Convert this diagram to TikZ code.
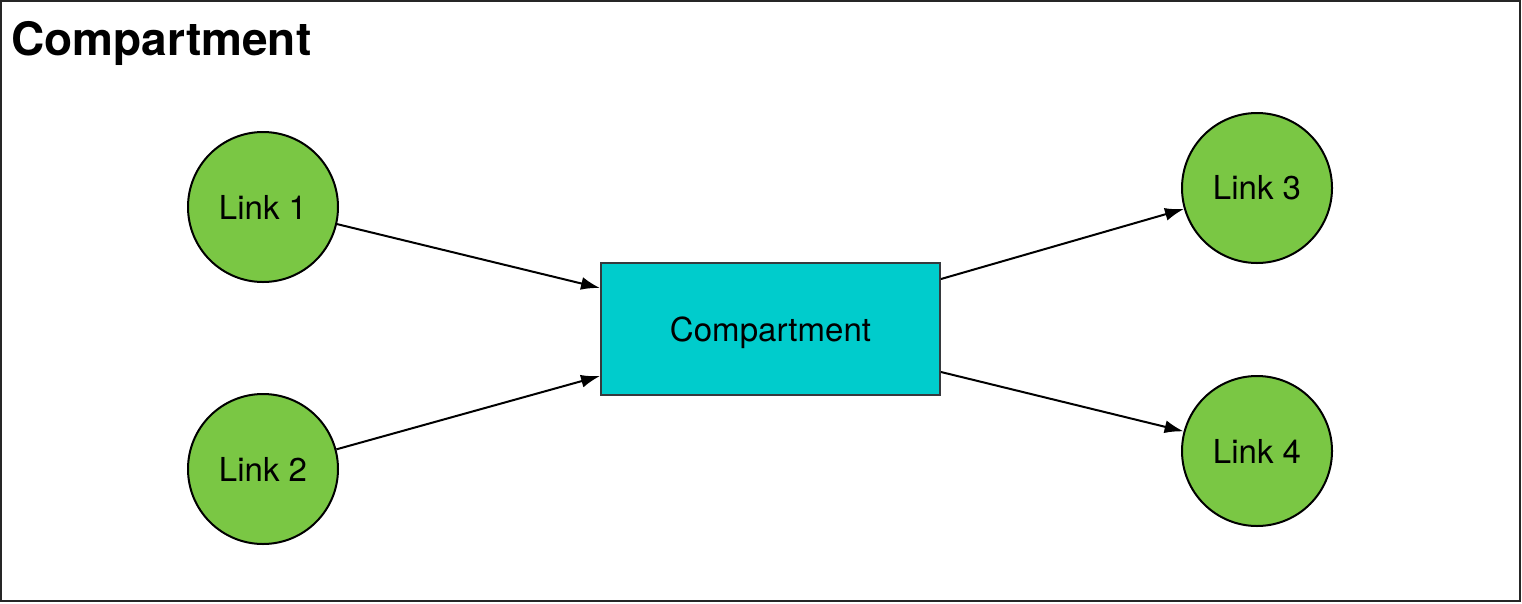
\documentclass[tikz,border=0pt]{standalone}
\usepackage{fontspec}
\setmainfont{TeX Gyre Heros}
\usetikzlibrary{arrows.meta}

\definecolor{linkgreen}{RGB}{122,199,68}
\definecolor{cmpcyan}{RGB}{0,204,204}
\definecolor{cmpborder}{RGB}{54,57,61}

\tikzset{
  link/.style = {circle, draw = black, line width = 2pt, fill = linkgreen,
    minimum size = 150pt, inner sep = 0pt, font = \fontsize{33}{40}\selectfont},
  cmpbox/.style = {rectangle, draw = cmpborder, line width = 2pt, fill = cmpcyan,
    minimum width = 339pt, minimum height = 132pt, inner sep = 0pt, text depth = 0pt,
    font = \fontsize{33}{40}\selectfont},
  flow/.style = {line width = 2pt, -{Latex[length = 19pt, width = 13pt]}}
}

\begin{document}
\begin{tikzpicture}[x = 1pt, y = -1pt]
\useasboundingbox (0,0) rectangle (1522,603);
% Frame
\draw[line width = 2pt, draw = black!85] (1,1) rectangle (1520,601);
\node[anchor = base west, inner sep = 0pt, font = \fontsize{46}{54}\selectfont\bfseries] (title) at (11,55) {Compartment};
% Compartment
\node[cmpbox] (cmp) at (770.5,329) {Compartment};
% Links
\node[link] (link1) at (263,207) {Link 1};
\node[link] (link2) at (263,469) {Link 2};
\node[link] (link3) at (1257,188) {Link 3};
\node[link] (link4) at (1257,451) {Link 4};
% Flows
\draw[flow] (link1.-13) -- ([yshift = 41pt]cmp.west);
\draw[flow] (link2.15.5) -- ([yshift = -47pt]cmp.west);
\draw[flow] ([yshift = 50pt]cmp.east) -- (link3.196.6);
\draw[flow] ([yshift = -43pt]cmp.east) -- (link4.165.6);
\end{tikzpicture}
\end{document}
